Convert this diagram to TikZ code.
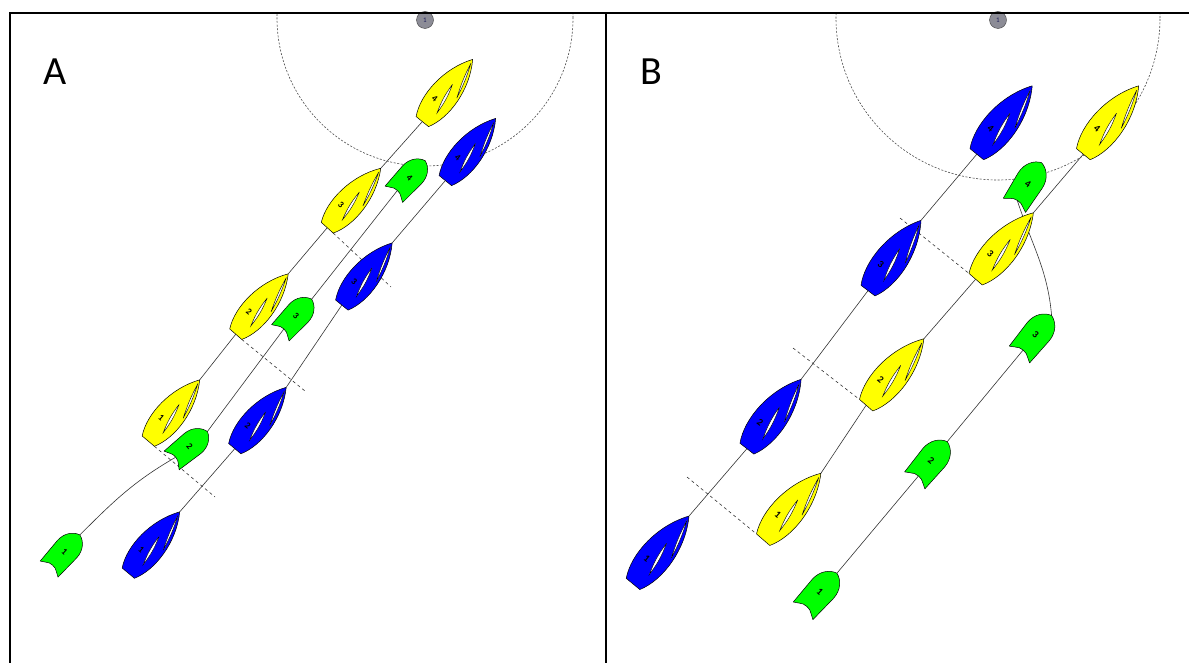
\documentclass[tikz,border=0pt]{standalone}
\usepackage{fontspec}
\setmainfont{Carlito}
\usetikzlibrary{backgrounds}
\definecolor{boatyellow}{RGB}{255,255,0}
\definecolor{boatblue}{RGB}{0,0,255}
\definecolor{boatgreen}{RGB}{0,255,0}
\definecolor{markgray}{RGB}{140,140,150}
\definecolor{marknum}{RGB}{30,30,90}
\tikzset{
  hull/.style={draw=black, line width=0.5pt, line join=round},
  sail/.style={draw=black, fill=white, line width=0.4pt},
  sailno/.style={font=\fontsize{9}{9}\selectfont\bfseries, inner sep=0pt, transform shape},
  track/.style={draw=black!80, line width=0.6pt},
  overlap/.style={draw=black!80, dash pattern=on 3pt off 3pt, line width=0.6pt},
  zone/.style={draw=black!70, dash pattern=on 2pt off 1.6pt, line width=0.6pt},
  frame/.style={draw=black, line width=2pt},
  markbuoy/.style={circle, draw=black!75, fill=markgray, minimum size=17pt, inner sep=0pt,
    font=\fontsize{7}{7}\selectfont, text=marknum},
  panel/.style={font=\fontsize{40}{40}\selectfont, inner sep=0pt},
  % keelboat: bow at (0,40), stern at (0,-40)
  pics/keelboat/.style 2 args={code={
    \path[hull, fill=#1] (-8,-40) -- (8,-40) .. controls (19,-20) and (17,15) .. (0,40)
      .. controls (-17,15) and (-19,-20) .. (-8,-40) -- cycle;
    \path[sail] (1,36) to[bend left=5] (12,0) to[bend left=5] (1,36);
    \path[sail] (0,8) to[bend left=8] (6,-24) to[bend left=8] (0,8);
    \node[sailno] at (-5,-14) {#2};
    \coordinate (-bow) at (0,40);
    \coordinate (-stern) at (0,-40);
    \coordinate (-sp) at (-8,-40);
    \coordinate (-ss) at (8,-40);
  }},
  % launch: bow at (0,23), notched stern
  pics/launch/.style 2 args={code={
    \path[hull, fill=#1] (-12,-23) -- (-13,4) .. controls (-13,14) and (-7,21) .. (0,23)
      .. controls (7,21) and (13,14) .. (13,4) -- (12,-23) -- (7,-20)
      .. controls (4,-17) and (-4,-17) .. (-7,-20) -- cycle;
    \node[sailno] at (0,0) {#2};
    \coordinate (-bow) at (0,23);
    \coordinate (-stern) at (0,-18);
  }},
}

\begin{document}
\begin{tikzpicture}[x=1pt,y=1pt]
  \useasboundingbox (0,0) rectangle (1189,-663);

  % zone circles round the marks
  \begin{scope}
    \clip (10,-13) rectangle (606,-663);
    \draw[zone] (425,-18) circle (148);
  \end{scope}
  \begin{scope}
    \clip (606,-13) rectangle (1189,-663);
    \draw[zone] (998,-18) circle (162);
  \end{scope}
  \node[markbuoy] (markA) at (425,-20) {1};
  \node[markbuoy] (markB) at (998,-20) {1};

  % panel A
  \pic[rotate=-39] (ya4) at (447.5,-90.5) {keelboat={boatyellow}{4}};
  \pic[rotate=-42] (ya3) at (354,-198) {keelboat={boatyellow}{3}};
  \pic[rotate=-41] (ya2) at (262,-304) {keelboat={boatyellow}{2}};
  \pic[rotate=-40] (ya1) at (174,-410.5) {keelboat={boatyellow}{1}};
  \pic[rotate=-39] (ba4) at (470.5,-149.5) {keelboat={boatblue}{4}};
  \pic[rotate=-39] (ba3) at (367,-274) {keelboat={boatblue}{3}};
  \pic[rotate=-40] (ba2) at (260.5,-418) {keelboat={boatblue}{2}};
  \pic[rotate=-40] (ba1) at (154,-542.5) {keelboat={boatblue}{1}};
  \pic[rotate=-43] (ga4) at (409.5,-177.5) {launch={boatgreen}{4}};
  \pic[rotate=-43] (ga3) at (296,-316) {launch={boatgreen}{3}};
  \pic[rotate=-51] (ga2) at (189.5,-446) {launch={boatgreen}{2}};
  \pic[rotate=-42] (ga1) at (64.5,-552) {launch={boatgreen}{1}};

  % panel B
  \pic[scale=1.1, rotate=-39] (bb4) at (1004.5,-120) {keelboat={boatblue}{4}};
  \pic[scale=1.1, rotate=-37] (bb3) at (894.5,-255.5) {keelboat={boatblue}{3}};
  \pic[scale=1.1, rotate=-38] (bb2) at (774,-414) {keelboat={boatblue}{2}};
  \pic[scale=1.1, rotate=-39.5] (bb1) at (661,-550) {keelboat={boatblue}{1}};
  \pic[scale=1.1, rotate=-39] (yb4) at (1111,-120) {keelboat={boatyellow}{4}};
  \pic[scale=1.1, rotate=-41] (yb3) at (1004.5,-246) {keelboat={boatyellow}{3}};
  \pic[scale=1.1, rotate=-41] (yb2) at (895,-372) {keelboat={boatyellow}{2}};
  \pic[scale=1.1, rotate=-41] (yb1) at (792,-506.5) {keelboat={boatyellow}{1}};
  \pic[scale=1.1, rotate=-32.5] (gb4) at (1028,-184) {launch={boatgreen}{4}};
  \pic[scale=1.1, rotate=-39.5] (gb3) at (1035.5,-335) {launch={boatgreen}{3}};
  \pic[scale=1.1, rotate=-40] (gb2) at (931,-461) {launch={boatgreen}{2}};
  \pic[scale=1.1, rotate=-42] (gb1) at (820,-592) {launch={boatgreen}{1}};

  % free ends of the overlap lines
  \coordinate (xa3) at (391,-287);
  \coordinate (xa2) at (305,-391);
  \coordinate (xa1) at (215,-497);
  \coordinate (xb3) at (900,-218);
  \coordinate (xb2) at (793,-348);
  \coordinate (xb1) at (687,-477);

  \begin{scope}[on background layer]
    % tracks
    \draw[track] (ya1-bow) -- (ya2-stern) (ya2-bow) -- (ya3-stern) (ya3-bow) -- (ya4-stern);
    \draw[track] (ba1-bow) -- (ba2-stern) (ba2-bow) -- (ba3-stern) (ba3-bow) -- (ba4-stern);
    \draw[track] (ga1-bow) to[out=45,in=210] (ga2-stern) (ga2-bow) -- (ga3-stern) (ga3-bow) -- (ga4-stern);
    \draw[track] (yb1-bow) -- (yb2-stern) (yb2-bow) -- (yb3-stern) (yb3-bow) -- (yb4-stern);
    \draw[track] (bb1-bow) -- (bb2-stern) (bb2-bow) -- (bb3-stern) (bb3-bow) -- (bb4-stern);
    \draw[track] (gb1-bow) -- (gb2-stern) (gb2-bow) -- (gb3-stern) (gb3-bow) to[out=95,in=-72] (gb4-stern);
    % overlap lines
    \draw[overlap] (ya3-ss) -- (xa3);
    \draw[overlap] (ya2-ss) -- (xa2);
    \draw[overlap] (ya1-ss) -- (xa1);
    \draw[overlap] (xb3) -- (yb3-sp);
    \draw[overlap] (xb2) -- (yb2-sp);
    \draw[overlap] (xb1) -- (yb1-sp);
  \end{scope}

  \node[panel] (labA) at (55,-72) {A};
  \node[panel] (labB) at (651,-72) {B};

  % frame
  \draw[frame] (9.5,-663) -- (9.5,-13) -- (1189,-13);
  \draw[frame] (606,-13) -- (606,-663);
\end{tikzpicture}
\end{document}
